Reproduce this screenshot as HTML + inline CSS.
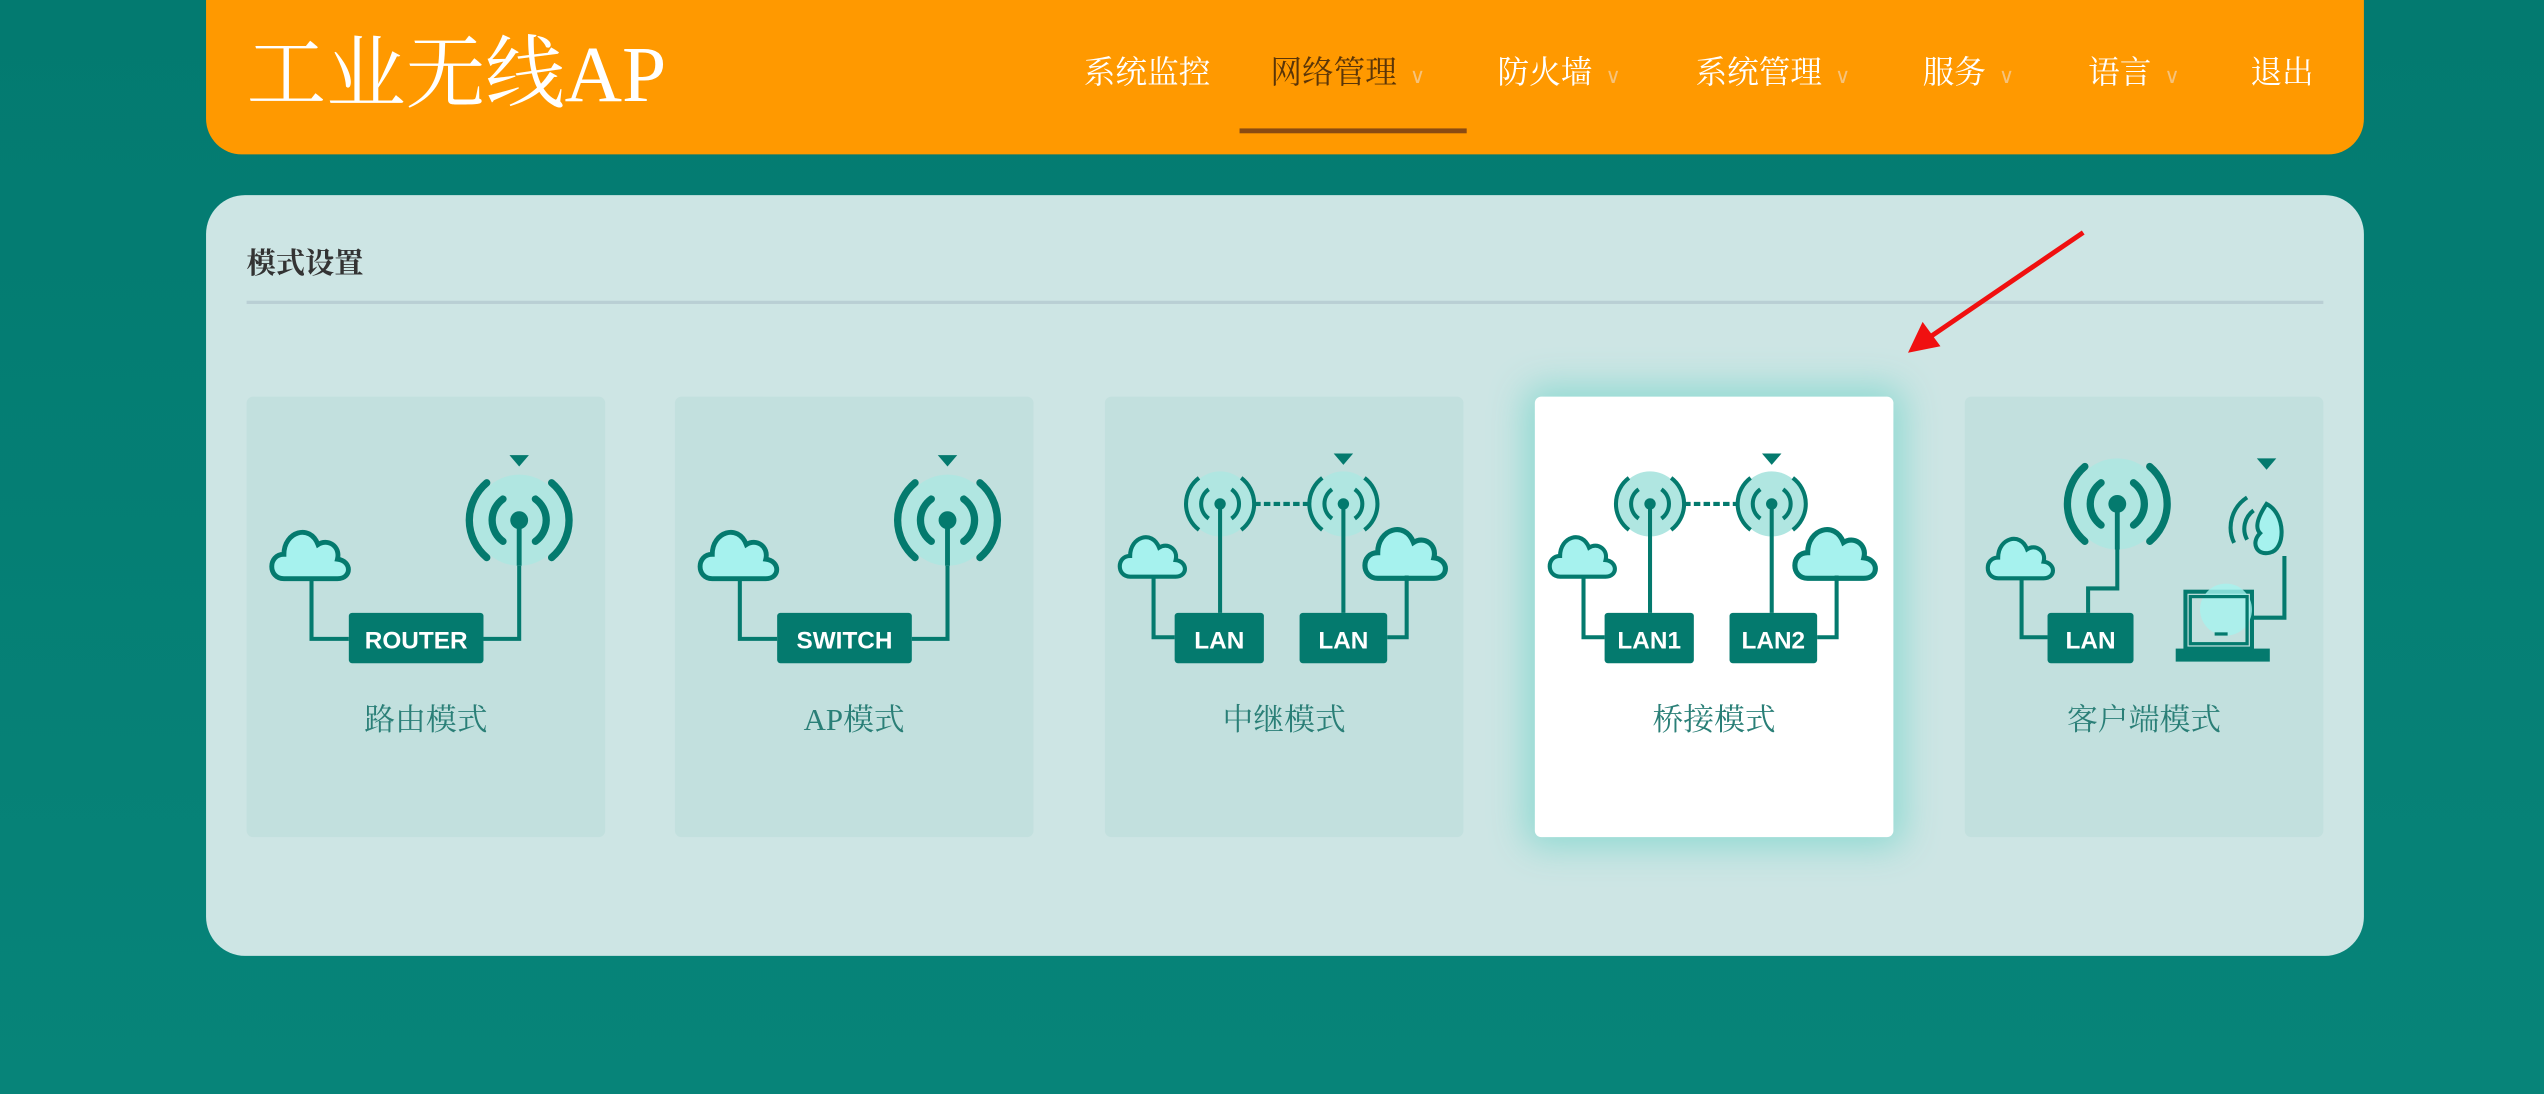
<!DOCTYPE html>
<html><head><meta charset="utf-8"><style>
html,body{margin:0;padding:0;width:2544px;height:1094px;overflow:hidden;background:#067e74;}
#s{position:absolute;left:0;top:0;width:1568px;height:673px;transform:scale(1.62245,1.62556);transform-origin:0 0;background:linear-gradient(180deg,#037a70 0%,#078479 100%);}
.hdr{position:absolute;left:127px;top:-10px;width:1330px;height:105px;background:#ff9900;border-radius:0 0 22px 22px;}
.title{position:absolute;left:152px;top:16px;font-family:"Liberation Serif","Noto Serif CJK SC",serif;font-size:49px;color:#fff;line-height:60px;}
.nav{position:absolute;top:34px;font-family:"Liberation Serif","Noto Serif CJK SC",serif;font-size:19.5px;color:#fff;line-height:24px;white-space:nowrap;}
.nav .c{color:#f6c27a;font-size:13px;margin-left:8px;font-family:"Liberation Sans",sans-serif;}
.ul{position:absolute;left:764px;top:79px;width:140px;height:3px;background:#8a4b12;}
.panel{position:absolute;left:127px;top:120px;width:1330px;height:468px;background:#cde5e4;border-radius:24px;}
.ph{position:absolute;left:152px;top:148px;font-family:"Liberation Serif","Noto Serif CJK SC",serif;font-weight:bold;font-size:18px;color:#333;}
.line{position:absolute;left:152px;top:185px;width:1280px;height:2px;background:#b9cfd4;}
.card{position:absolute;top:244px;width:221px;height:271px;background:#c2e0de;border-radius:4px;}
.card.act{background:#fff;box-shadow:0 0 22px 6px #8fdad2;}
.card svg{position:absolute;left:0;top:0;}
.lbl{position:absolute;left:0;width:221px;top:184px;text-align:center;font-family:"Liberation Serif","Noto Serif CJK SC",serif;font-size:19px;color:#2a7f77;}
</style></head><body><div id="s">
<svg width="0" height="0" style="position:absolute">
<defs>
<g id="ant">
<circle cx="0" cy="0" r="28" fill="#b0e6e1"/>
<path d="M-20,-23 A30,30 0 0 0 -20,23 M20,-23 A30,30 0 0 1 20,23" stroke="#047a6e" stroke-width="4.5" fill="none" stroke-linecap="round"/>
<path d="M-10,-13 A16,16 0 0 0 -10,13 M10,-13 A16,16 0 0 1 10,13" stroke="#047a6e" stroke-width="4.5" fill="none" stroke-linecap="round"/>
<circle cx="0" cy="0" r="5.5" fill="#047a6e"/>
<line x1="0" y1="0" x2="0" y2="28" stroke="#047a6e" stroke-width="3"/>
</g>
<g id="sant">
<circle cx="0" cy="0" r="20" fill="#b0e6e1"/>
<path d="M-13,-16 A20,20 0 0 0 -13,16 M13,-16 A20,20 0 0 1 13,16" stroke="#047a6e" stroke-width="2.5" fill="none"/>
<path d="M-7,-9 A11,11 0 0 0 -7,9 M7,-9 A11,11 0 0 1 7,9" stroke="#047a6e" stroke-width="2.5" fill="none"/>
<circle cx="0" cy="0" r="3.5" fill="#047a6e"/>
</g>
<g id="cloud">
<path d="M-17,15 C-27,15 -27,0 -17,0 C-17,-14 -1,-19 4,-6 C10,-10 18,-5 16,3 C25,4 25,15 16,15 Z" fill="#a6f2ee" stroke="#047a6e" stroke-width="3"/>
</g>
<path id="tri" d="M-6,0 L6,0 L0,7 Z" fill="#047a6e"/>
</defs></svg>

<div class="hdr"></div>
<div class="title">工业无线AP</div>
<div class="nav" style="left:668px">系统监控</div>
<div class="nav" style="left:783px;color:#5a3508">网络管理<span class="c">∨</span></div>
<div class="nav" style="left:923px">防火墙<span class="c">∨</span></div>
<div class="nav" style="left:1045px">系统管理<span class="c">∨</span></div>
<div class="nav" style="left:1185px">服务<span class="c">∨</span></div>
<div class="nav" style="left:1287px">语言<span class="c">∨</span></div>
<div class="nav" style="left:1387px">退出</div>
<div class="ul"></div>

<div class="panel"></div>
<div class="ph">模式设置</div>
<div class="line"></div>

<div class="card" style="left:152px"><svg width="221" height="271">
<use href="#tri" x="168" y="36"/><use href="#ant" x="168" y="76"/>
<use href="#cloud" x="40" y="97"/>
<path d="M40,112 V149 H63 M146,149 H168 V104" stroke="#047a6e" stroke-width="2.5" fill="none"/>
<rect x="63" y="133" width="83" height="31" rx="2" fill="#047a6e"/>
<text x="104.5" y="155" text-anchor="middle" font-family="Liberation Sans,sans-serif" font-weight="bold" font-size="15" fill="#fff">ROUTER</text>
</svg><div class="lbl">路由模式</div></div>

<div class="card" style="left:416px"><svg width="221" height="271">
<use href="#tri" x="168" y="36"/><use href="#ant" x="168" y="76"/>
<use href="#cloud" x="40" y="97"/>
<path d="M40,112 V149 H63 M146,149 H168 V104" stroke="#047a6e" stroke-width="2.5" fill="none"/>
<rect x="63" y="133" width="83" height="31" rx="2" fill="#047a6e"/>
<text x="104.5" y="155" text-anchor="middle" font-family="Liberation Sans,sans-serif" font-weight="bold" font-size="15" fill="#fff">SWITCH</text>
</svg><div class="lbl">AP模式</div></div>

<div class="card" style="left:681px"><svg width="221" height="271">
<use href="#tri" x="147" y="35"/>
<use href="#sant" x="71" y="66"/><use href="#sant" x="147" y="66"/>
<line x1="92" y1="66" x2="126" y2="66" stroke="#047a6e" stroke-width="2.5" stroke-dasharray="4,2"/>
<use href="#cloud" transform="translate(30,98) scale(0.85)"/>
<use href="#cloud" transform="translate(186,96) scale(1.05)"/>
<path d="M71,66 V133 M147,66 V133 M30,110 V148 H43 M186,110 V148 H174" stroke="#047a6e" stroke-width="2.5" fill="none"/>
<rect x="43" y="133" width="55" height="31" rx="2" fill="#047a6e"/>
<rect x="120" y="133" width="54" height="31" rx="2" fill="#047a6e"/>
<text x="70.5" y="155" text-anchor="middle" font-family="Liberation Sans,sans-serif" font-weight="bold" font-size="15" fill="#fff">LAN</text>
<text x="147" y="155" text-anchor="middle" font-family="Liberation Sans,sans-serif" font-weight="bold" font-size="15" fill="#fff">LAN</text>
</svg><div class="lbl">中继模式</div></div>

<div class="card act" style="left:946px"><svg width="221" height="271">
<use href="#tri" x="146" y="35"/>
<use href="#sant" x="71" y="66"/><use href="#sant" x="146" y="66"/>
<line x1="92" y1="66" x2="125" y2="66" stroke="#047a6e" stroke-width="2.5" stroke-dasharray="4,2"/>
<use href="#cloud" transform="translate(30,98) scale(0.85)"/>
<use href="#cloud" transform="translate(186,96) scale(1.05)"/>
<path d="M71,66 V133 M146,66 V133 M30,110 V148 H43 M186,110 V148 H174" stroke="#047a6e" stroke-width="2.5" fill="none"/>
<rect x="43" y="133" width="55" height="31" rx="2" fill="#047a6e"/>
<rect x="120" y="133" width="54" height="31" rx="2" fill="#047a6e"/>
<text x="70.5" y="155" text-anchor="middle" font-family="Liberation Sans,sans-serif" font-weight="bold" font-size="15" fill="#fff">LAN1</text>
<text x="147" y="155" text-anchor="middle" font-family="Liberation Sans,sans-serif" font-weight="bold" font-size="15" fill="#fff">LAN2</text>
</svg><div class="lbl">桥接模式</div></div>

<div class="card" style="left:1211px"><svg width="221" height="271">
<use href="#ant" x="94" y="66"/>
<use href="#tri" x="186" y="38"/>
<path d="M174,62 A22,22 0 0 0 166,90 M178,70 A14,14 0 0 0 174,88" stroke="#047a6e" stroke-width="2.5" fill="none"/>
<path d="M186,66 C198,72 198,94 188,96 C180,98 176,90 182,84 C178,80 182,72 186,66 Z" fill="#a6f2ee" stroke="#047a6e" stroke-width="2.5"/>
<use href="#cloud" transform="translate(35,99) scale(0.85)"/>
<path d="M94,94 V118 H76 V133 M35,112 V148 H51 M197,98 V136 H178" stroke="#047a6e" stroke-width="2.5" fill="none"/>
<rect x="51" y="133" width="53" height="31" rx="2" fill="#047a6e"/>
<text x="77.5" y="155" text-anchor="middle" font-family="Liberation Sans,sans-serif" font-weight="bold" font-size="15" fill="#fff">LAN</text>
<rect x="136" y="120" width="41" height="35" fill="none" stroke="#047a6e" stroke-width="2.5"/>
<circle cx="161" cy="131" r="16" fill="#a6f2ee" opacity="0.8"/>
<rect x="139" y="123" width="35" height="29" fill="none" stroke="#047a6e" stroke-width="2"/>
<rect x="130" y="155" width="58" height="8" fill="#047a6e"/>
<rect x="154" y="145" width="8" height="2" fill="#047a6e"/>
</svg><div class="lbl">客户端模式</div></div>

<svg width="1568" height="673" style="position:absolute;left:0;top:0">
<line x1="1284" y1="143" x2="1190" y2="207" stroke="#f01010" stroke-width="3"/>
<path d="M1176,217 L1185,198 L1196,213 Z" fill="#f01010"/>
</svg>
</div></body></html>
